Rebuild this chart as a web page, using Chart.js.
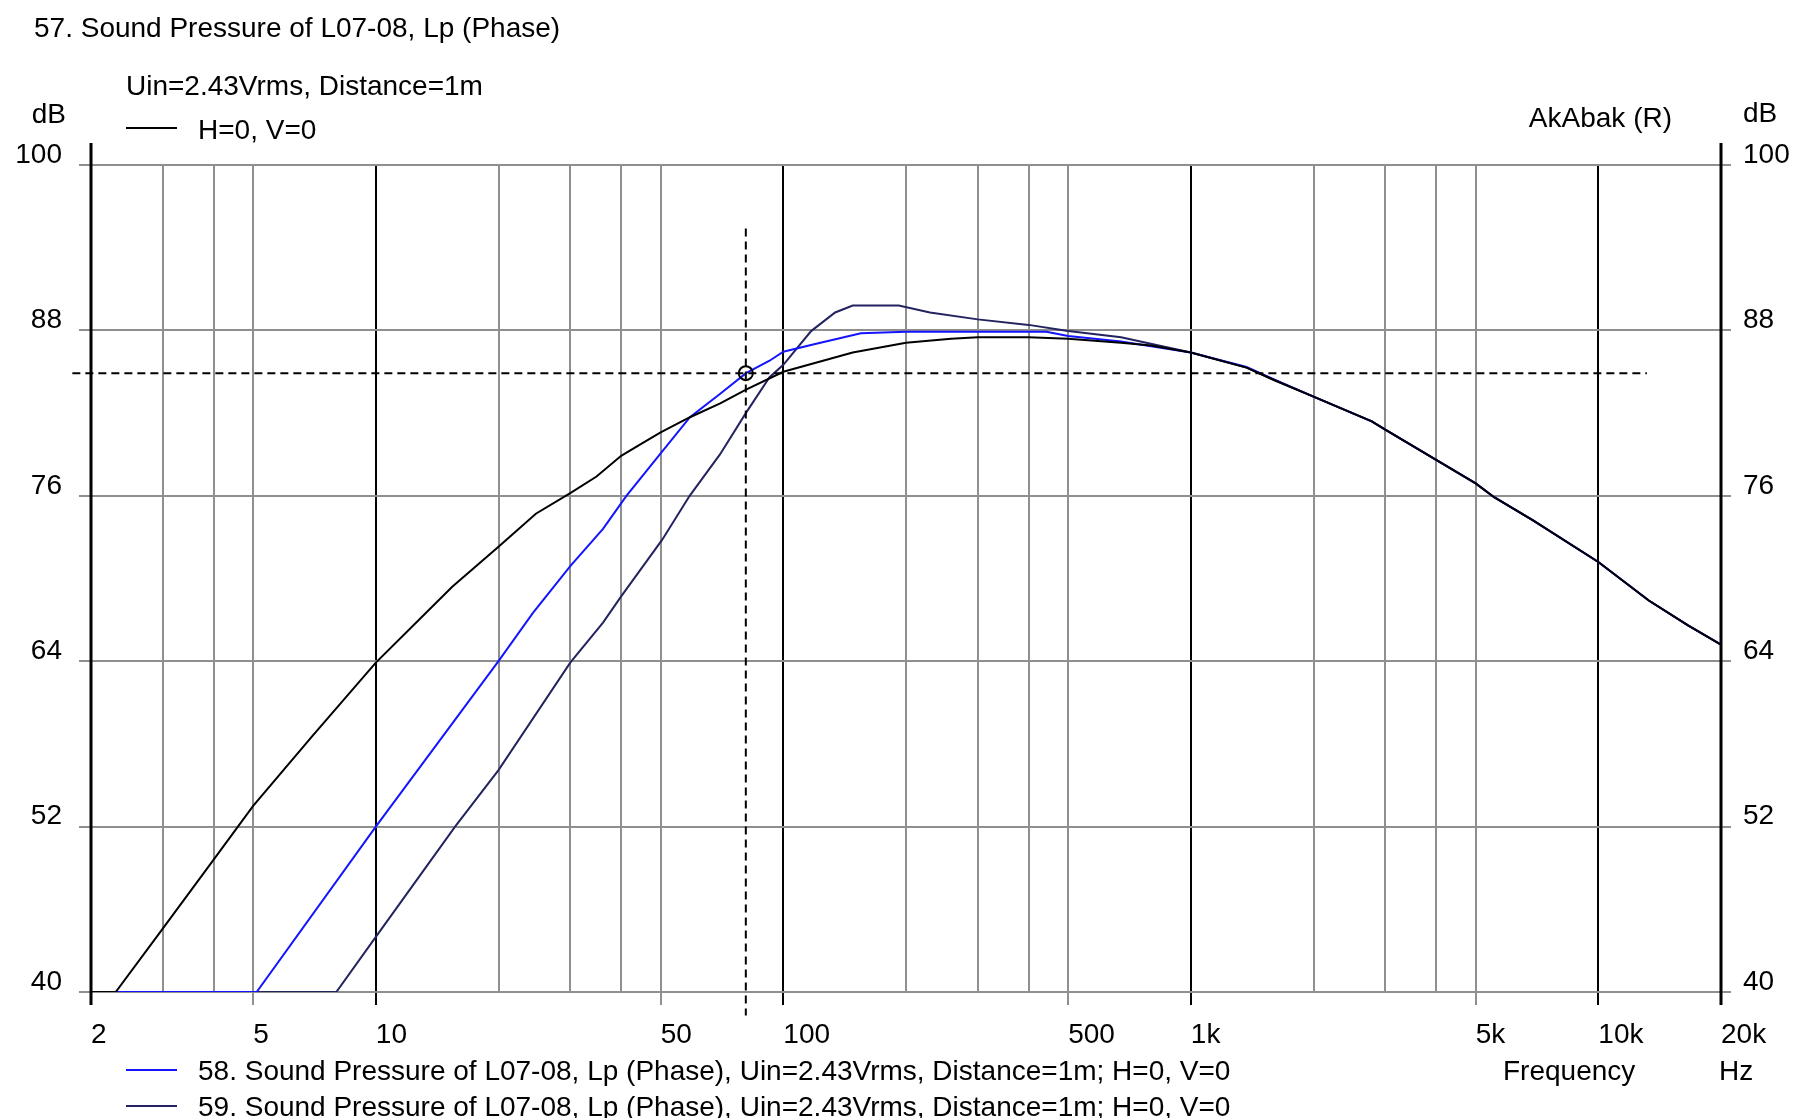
<!DOCTYPE html>
<html>
<head>
<meta charset="utf-8">
<script src="https://cdn.jsdelivr.net/npm/chart.js@4.4.1/dist/chart.umd.min.js"></script>
<style>
html,body{margin:0;padding:0;background:#ffffff;}
#wrap{width:1793px;height:1118px;position:relative;overflow:hidden;}
canvas{display:block;}
</style>
</head>
<body>
<div id="wrap"><canvas id="c" width="1793" height="1118"></canvas></div>
<script>
// ---- data ----
const freq57 = [2, 2.3, 3, 4, 5, 7, 10, 15.4, 20, 24.7, 30, 34.8, 40, 45, 50, 59, 70, 81, 100, 148, 200, 258, 300, 400, 500, 674, 800, 1000, 1370, 1600, 2000, 2780, 3000, 4000, 5000, 5550, 6930, 10000, 13300, 16600, 20000];
const spl57  = [40, 40, 44.6, 49.6, 53.5, 58.6, 63.9, 69.4, 72.3, 74.7, 76.2, 77.4, 78.9, 79.8, 80.6, 81.7, 82.7, 83.7, 85.0, 86.4, 87.1, 87.4, 87.5, 87.5, 87.4, 87.1, 86.9, 86.4, 85.3, 84.4, 83.2, 81.4, 80.8, 78.6, 76.9, 75.9, 74.2, 71.2, 68.4, 66.6, 65.2];

const freq58 = [2, 5.1, 10, 20, 24.3, 30, 36.1, 41.2, 50.4, 59, 70, 81, 92.5, 100, 119, 155, 200, 300, 442, 500, 674, 1000, 1370, 1600, 2000, 2780, 3000, 4000, 5000, 5550, 6930, 10000, 13300, 16600, 20000];
const spl58  = [40, 40, 52, 64, 67.5, 70.9, 73.6, 76.0, 79.2, 81.7, 83.4, 84.9, 85.8, 86.45, 87.0, 87.8, 87.9, 87.9, 87.9, 87.6, 87.2, 86.4, 85.35, 84.45, 83.2, 81.4, 80.8, 78.6, 76.9, 75.9, 74.2, 71.2, 68.4, 66.6, 65.2];

const freq59 = [2, 8.0, 10, 15.65, 20, 30, 36.1, 40, 50.4, 58.9, 69.9, 80.9, 92.5, 100, 117, 134, 148, 192, 229, 300, 400, 500, 674, 1000, 1370, 1600, 2000, 2780, 3000, 4000, 5000, 5550, 6930, 10000, 13300, 16600, 20000];
const spl59  = [40, 40, 44, 52, 56.1, 63.9, 66.8, 68.7, 72.8, 76.0, 79.0, 82.0, 84.6, 85.5, 87.95, 89.3, 89.8, 89.8, 89.3, 88.8, 88.4, 87.95, 87.5, 86.4, 85.3, 84.4, 83.2, 81.4, 80.8, 78.6, 76.9, 75.9, 74.2, 71.2, 68.4, 66.6, 65.2];

// cursor (crosshair)
const cursorFreq = 80.9;
const cursorLevel = 84.9;
const cursorLevelSpan = [95.4, 38.3];   // dB extent of the vertical dashed line
const cursorFreqSpan = [1.8, 13160];     // Hz extent of the horizontal dashed line

// axes
const xGridValues = [2, 3, 4, 5, 10, 20, 30, 40, 50, 100, 200, 300, 400, 500, 1000, 2000, 3000, 4000, 5000, 10000, 20000];
const xLabelValues = [2, 5, 10, 50, 100, 500, 1000, 5000, 10000, 20000];
const xLabelTexts  = ['2', '5', '10', '50', '100', '500', '1k', '5k', '10k', '20k'];
const xDecadeValues = [2, 10, 100, 1000, 10000, 20000];
const yTickValues = [40, 52, 64, 76, 88, 100];

// texts
const titleText = '57. Sound Pressure of L07-08, Lp (Phase)';
const subtitleText = 'Uin=2.43Vrms, Distance=1m';
const label57 = 'H=0, V=0';
const label58 = '58. Sound Pressure of L07-08, Lp (Phase), Uin=2.43Vrms, Distance=1m; H=0, V=0';
const label59 = '59. Sound Pressure of L07-08, Lp (Phase), Uin=2.43Vrms, Distance=1m; H=0, V=0';

const FONT = "'Liberation Sans', Arial, sans-serif";
const FS = 28;
const GRID_GREY = '#8f8f8f';
const C57 = '#000000', C58 = '#1414ff', C59 = '#23235f';

const pts = (f, v) => f.map((x, i) => ({x: x, y: v[i]}));
const isLabeled = v => xLabelValues.some(a => Math.abs(a - v) < 1e-6);
const isDecade = v => xDecadeValues.some(a => Math.abs(a - v) < 1e-6);
const xGridColor = ctx => (ctx.tick && isDecade(ctx.tick.value)) ? '#000000' : GRID_GREY;

const decor = {
  id: 'decor',
  beforeDatasetsDraw(chart) {
    const {ctx, scales: {x, y}} = chart;
    const xl = x.getPixelForValue(x.min), xr = x.getPixelForValue(x.max);
    const top = y.getPixelForValue(y.max) - 22, bot = y.getPixelForValue(y.min) + 13;
    ctx.save();
    ctx.strokeStyle = '#000';
    ctx.lineWidth = 3;
    ctx.beginPath();
    ctx.moveTo(xl, top); ctx.lineTo(xl, bot);
    ctx.moveTo(xr, top); ctx.lineTo(xr, bot);
    ctx.stroke();
    ctx.restore();
  },
  afterDraw(chart) {
    const {ctx} = chart;
    ctx.save();
    ctx.font = FS + 'px ' + FONT;
    ctx.fillStyle = '#000';
    ctx.textBaseline = 'alphabetic';
    ctx.textAlign = 'left';
    ctx.fillText(titleText, 34, 37);
    ctx.fillText(subtitleText, 126, 95);
    ctx.fillText(label57, 198, 139);
    ctx.textAlign = 'right';
    ctx.fillText('dB', 66, 123);
    ctx.fillText('AkAbak (R)', 1672, 127);
    ctx.textAlign = 'left';
    ctx.fillText('dB', 1743, 122);
    ctx.fillText(label58, 198, 1080);
    ctx.fillText(label59, 198, 1116);
    ctx.fillText('Frequency', 1503, 1080);
    ctx.fillText('Hz', 1719, 1080);
    // legend swatches
    const sw = [[C57, 128], [C58, 1070], [C59, 1106]];
    ctx.lineWidth = 2;
    sw.forEach(([c, yy]) => {
      ctx.strokeStyle = c;
      ctx.beginPath(); ctx.moveTo(126, yy); ctx.lineTo(177, yy); ctx.stroke();
    });
    ctx.restore();
  }
};

const curve = (label, data, color) => ({
  label, data, borderColor: color, backgroundColor: color,
  borderWidth: 2, pointRadius: 0, tension: 0, fill: false
});

new Chart(document.getElementById('c'), {
  type: 'line',
  data: {
    datasets: [
      {label: 'cursor', data: [{x: cursorFreq, y: cursorLevel}], showLine: false,
       pointRadius: 7, pointStyle: 'circle', borderColor: '#000', borderWidth: 2,
       backgroundColor: 'rgba(0,0,0,0)', clip: false, order: -3},
      {label: 'cursorV', data: [{x: cursorFreq, y: cursorLevelSpan[0]}, {x: cursorFreq, y: cursorLevelSpan[1]}],
       borderColor: '#000', borderWidth: 2, borderDash: [8, 5], pointRadius: 0, clip: false, order: -2},
      {label: 'cursorH', data: [{x: cursorFreqSpan[0], y: cursorLevel}, {x: cursorFreqSpan[1], y: cursorLevel}],
       borderColor: '#000', borderWidth: 2, borderDash: [8, 5], pointRadius: 0, clip: false, order: -2},
      curve('57. ' + label57, pts(freq57, spl57), C57),
      curve(label58, pts(freq58, spl58), C58),
      curve(label59, pts(freq59, spl59), C59)
    ]
  },
  options: {
    responsive: false,
    animation: false,
    devicePixelRatio: 1,
    layout: {padding: {top: 165, left: 0, right: 0, bottom: 0}},
    plugins: {legend: {display: false}, title: {display: false}, tooltip: {enabled: false}},
    events: [],
    scales: {
      x: {
        type: 'logarithmic', position: 'bottom', min: 2, max: 20000,
        afterBuildTicks: s => { s.ticks = xGridValues.map(v => ({value: v})); },
        afterFit: s => { s.height = 126; },
        border: {display: false},
        grid: {
          color: xGridColor, lineWidth: 2, drawTicks: true, tickLength: 13,
          tickColor: ctx => (ctx.tick && isLabeled(ctx.tick.value)) ? xGridColor(ctx) : 'rgba(0,0,0,0)'
        },
        ticks: {
          autoSkip: false, maxRotation: 0, minRotation: 0, align: 'start', padding: 13,
          color: '#000', font: {family: FONT, size: FS},
          callback: v => { const i = xLabelValues.findIndex(a => Math.abs(a - v) < 1e-6); return i >= 0 ? xLabelTexts[i] : ''; }
        }
      },
      y: {
        type: 'linear', position: 'left', min: 40, max: 100,
        afterBuildTicks: s => { s.ticks = yTickValues.map(v => ({value: v})); },
        afterFit: s => { s.width = 91; },
        border: {display: false},
        grid: {color: GRID_GREY, lineWidth: 2, drawTicks: true, tickLength: 12, tickColor: GRID_GREY},
        ticks: {padding: 17, labelOffset: -10, color: '#000', font: {family: FONT, size: FS}, callback: v => String(v)}
      },
      y2: {
        type: 'linear', position: 'right', min: 40, max: 100,
        afterBuildTicks: s => { s.ticks = yTickValues.map(v => ({value: v})); },
        afterFit: s => { s.width = 72; },
        border: {display: false},
        grid: {drawOnChartArea: false, color: GRID_GREY, lineWidth: 2, drawTicks: true, tickLength: 10, tickColor: GRID_GREY},
        ticks: {padding: 12, labelOffset: -10, color: '#000', font: {family: FONT, size: FS}, callback: v => String(v)}
      }
    }
  },
  plugins: [decor]
});
</script>
</body>
</html>
